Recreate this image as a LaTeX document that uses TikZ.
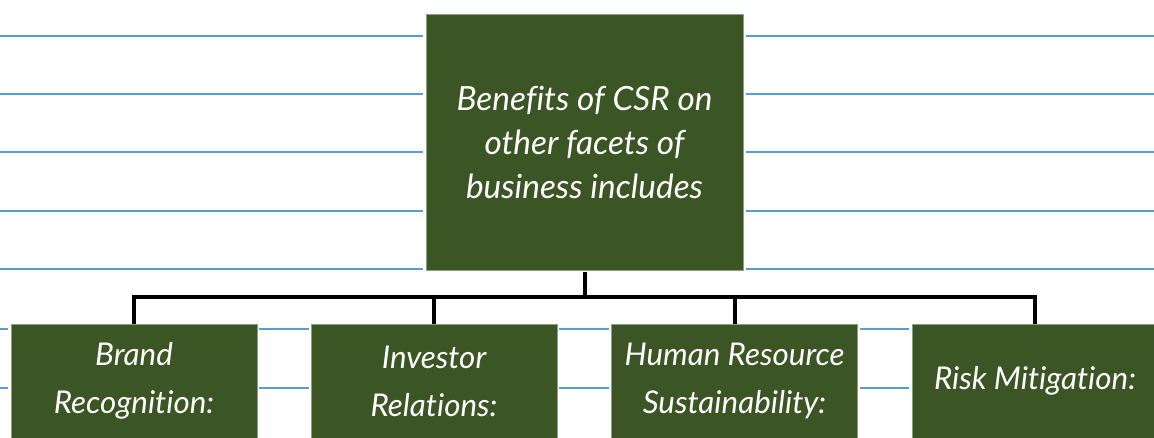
\documentclass[tikz,border=0pt]{standalone}
\usepackage{fontspec}
\setmainfont{Lato}[Ligatures=CommonOff]
\begin{document}
\begin{tikzpicture}[x=0.75pt,y=-0.75pt,
  rule/.style={draw={rgb,255:red,91;green,155;blue,213},line width=1.3pt},
  topbox/.style={fill={rgb,255:red,59;green,86;blue,36},draw={rgb,255:red,140;green,160;blue,130},line width=0.6pt,
    minimum width=237.75pt,minimum height=192pt,inner sep=0pt,
    text=white,align=center,font=\itshape\fontsize{25}{33}\selectfont},
  subbox/.style={fill={rgb,255:red,59;green,86;blue,36},draw={rgb,255:red,140;green,160;blue,130},line width=0.6pt,
    minimum width=184.5pt,minimum height=85.5pt,inner sep=0pt,
    text=white,align=center,font=\itshape\fontsize{23.5}{36}\selectfont},
  link/.style={draw=black,line width=3pt}]
\useasboundingbox (0,0) rectangle (1154,438);
% ruled notebook lines behind the chart
\foreach \yy in {36,94,152,211,269}{
  \draw[rule] (0,\yy) -- (423,\yy);
  \draw[rule] (746,\yy) -- (1154,\yy);
}
\foreach \yy in {329,388}{
  \draw[rule] (0,\yy) -- (8,\yy);
  \draw[rule] (259,\yy) -- (309,\yy);
  \draw[rule] (559,\yy) -- (609,\yy);
  \draw[rule] (860,\yy) -- (909,\yy);
}
% boxes
\node[topbox] (top) at (584.5,142) {Benefits of CSR on\\other facets of\\business includes};
\node[subbox] (b1) at (134,381) {Brand\\Recognition:};
\node[subbox] (b2) at (434,381) {Investor\\Relations:};
\node[subbox] (b3) at (734.5,381) {Human Resource\\Sustainability:};
\node[subbox] (b4) at (1035,381) {Risk Mitigation:};
% connectors
\coordinate (hub) at (584.5,297);
\draw[link] ([yshift=-1.5pt]top.south) -- (hub);
\foreach \b in {b1,b2,b3,b4}{
  \draw[link,line cap=rect] (hub) -| ([yshift=1.5pt]\b.north);
}
\end{tikzpicture}
\end{document}
